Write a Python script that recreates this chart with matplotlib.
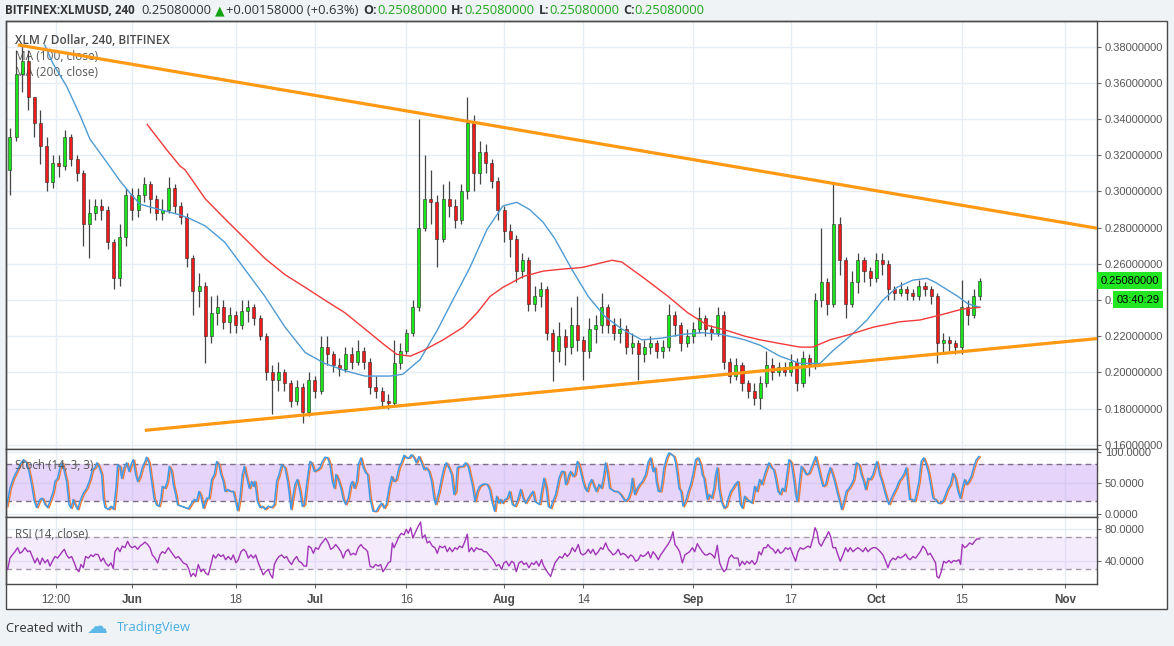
import numpy as np
import pandas as pd
import matplotlib
matplotlib.use('Agg')
import matplotlib.pyplot as plt
import matplotlib.dates as mdates
import matplotlib.transforms as mtransforms
from matplotlib.patches import Rectangle
from matplotlib.ticker import FormatStrFormatter

# ---------------------------------------------------------------------------
# Data (daily candles, XLM/USD, May 12 - Oct 18 2018)
# ---------------------------------------------------------------------------
first_date = '2018-05-12'
first_open = 0.312

close = [
    0.330, 0.365, 0.372, 0.352, 0.338, 0.325, 0.305, 0.316, 0.314, 0.330,
    0.318, 0.310, 0.282, 0.288, 0.292, 0.290, 0.272, 0.252, 0.275, 0.298,
    0.290, 0.298, 0.304, 0.296, 0.288, 0.290, 0.302, 0.292, 0.286, 0.263,
    0.245, 0.248, 0.220, 0.233, 0.236, 0.228, 0.232, 0.226, 0.234, 0.236,
    0.230, 0.220, 0.200, 0.196, 0.200, 0.194, 0.184, 0.192, 0.178, 0.196,
    0.190, 0.214, 0.210, 0.204, 0.202, 0.210, 0.206, 0.212, 0.206, 0.192,
    0.190, 0.184, 0.183, 0.205, 0.212, 0.222, 0.236, 0.280, 0.296, 0.294,
    0.274, 0.296, 0.292, 0.284, 0.300, 0.338, 0.310, 0.322, 0.316, 0.306,
    0.290, 0.278, 0.274, 0.256, 0.262, 0.238, 0.242, 0.246, 0.222, 0.212,
    0.220, 0.214, 0.226, 0.218, 0.212, 0.224, 0.226, 0.236, 0.226, 0.222,
    0.224, 0.214, 0.216, 0.210, 0.214, 0.216, 0.212, 0.214, 0.232, 0.226,
    0.216, 0.220, 0.224, 0.230, 0.224, 0.222, 0.232, 0.206, 0.198, 0.204,
    0.194, 0.190, 0.186, 0.194, 0.204, 0.200, 0.203, 0.200, 0.206, 0.194,
    0.208, 0.204, 0.240, 0.250, 0.238, 0.282, 0.262, 0.238, 0.250, 0.262,
    0.256, 0.252, 0.262, 0.260, 0.246, 0.244, 0.246, 0.244, 0.242, 0.248,
    0.246, 0.242, 0.216, 0.218, 0.216, 0.214, 0.236, 0.232, 0.242, 0.2508,
]
high = [
    0.335, 0.378, 0.381, 0.378, 0.352, 0.345, 0.330, 0.320, 0.320, 0.334,
    0.332, 0.320, 0.312, 0.296, 0.296, 0.296, 0.292, 0.274, 0.282, 0.302,
    0.302, 0.302, 0.308, 0.306, 0.298, 0.296, 0.308, 0.304, 0.294, 0.288,
    0.265, 0.255, 0.250, 0.242, 0.243, 0.240, 0.236, 0.234, 0.240, 0.240,
    0.238, 0.232, 0.222, 0.204, 0.206, 0.202, 0.196, 0.196, 0.194, 0.200,
    0.198, 0.220, 0.220, 0.212, 0.208, 0.214, 0.214, 0.218, 0.214, 0.208,
    0.198, 0.192, 0.188, 0.218, 0.216, 0.224, 0.240, 0.340, 0.320, 0.312,
    0.298, 0.304, 0.306, 0.296, 0.304, 0.352, 0.342, 0.328, 0.326, 0.318,
    0.308, 0.292, 0.282, 0.276, 0.266, 0.264, 0.248, 0.250, 0.248, 0.224,
    0.228, 0.224, 0.236, 0.242, 0.220, 0.230, 0.232, 0.244, 0.238, 0.230,
    0.230, 0.226, 0.222, 0.218, 0.218, 0.220, 0.218, 0.218, 0.238, 0.234,
    0.228, 0.224, 0.228, 0.236, 0.232, 0.226, 0.236, 0.234, 0.208, 0.208,
    0.206, 0.196, 0.194, 0.198, 0.212, 0.208, 0.206, 0.206, 0.210, 0.208,
    0.212, 0.210, 0.244, 0.280, 0.252, 0.305, 0.286, 0.264, 0.256, 0.266,
    0.264, 0.258, 0.266, 0.266, 0.262, 0.248, 0.250, 0.248, 0.246, 0.251,
    0.250, 0.248, 0.244, 0.222, 0.220, 0.218, 0.251, 0.240, 0.246, 0.252,
]
low = [
    0.298, 0.328, 0.355, 0.345, 0.330, 0.315, 0.300, 0.302, 0.308, 0.312,
    0.314, 0.306, 0.270, 0.263, 0.284, 0.284, 0.268, 0.246, 0.248, 0.270,
    0.284, 0.286, 0.294, 0.288, 0.284, 0.284, 0.288, 0.288, 0.282, 0.258,
    0.232, 0.236, 0.205, 0.216, 0.226, 0.224, 0.222, 0.222, 0.224, 0.228,
    0.226, 0.218, 0.196, 0.177, 0.190, 0.190, 0.181, 0.182, 0.172, 0.176,
    0.186, 0.188, 0.204, 0.200, 0.198, 0.200, 0.202, 0.204, 0.202, 0.188,
    0.186, 0.181, 0.180, 0.182, 0.202, 0.210, 0.220, 0.234, 0.278, 0.282,
    0.258, 0.272, 0.286, 0.280, 0.282, 0.296, 0.300, 0.304, 0.310, 0.302,
    0.284, 0.272, 0.264, 0.250, 0.252, 0.234, 0.234, 0.236, 0.218, 0.195,
    0.206, 0.204, 0.210, 0.212, 0.196, 0.208, 0.216, 0.222, 0.222, 0.218,
    0.216, 0.210, 0.210, 0.196, 0.206, 0.210, 0.208, 0.208, 0.212, 0.220,
    0.212, 0.214, 0.216, 0.222, 0.220, 0.218, 0.220, 0.202, 0.194, 0.196,
    0.190, 0.186, 0.182, 0.180, 0.192, 0.196, 0.198, 0.198, 0.198, 0.190,
    0.192, 0.198, 0.202, 0.236, 0.232, 0.236, 0.254, 0.230, 0.236, 0.244,
    0.250, 0.248, 0.250, 0.254, 0.240, 0.240, 0.242, 0.240, 0.240, 0.240,
    0.242, 0.238, 0.205, 0.210, 0.212, 0.210, 0.210, 0.226, 0.230, 0.240,
]

# moving averages: (days after 2018-06-01, value)
ma100 = [(-14.3, 0.381), (-13.0, 0.371), (-10.7, 0.358), (-8.5, 0.342), (-6.9, 0.329),
         (-4.1, 0.316), (-2.0, 0.306), (-0.3, 0.299), (1.3, 0.293), (3.4, 0.291),
         (5.7, 0.289), (7.9, 0.287), (9.5, 0.285), (12.0, 0.281), (15.2, 0.272),
         (18.5, 0.257), (21.8, 0.242), (25.1, 0.225), (28.4, 0.211), (31.6, 0.205),
         (34.9, 0.201), (38.2, 0.198), (42.3, 0.198), (44.4, 0.199), (47.2, 0.207),
         (50.0, 0.223), (52.6, 0.240), (55.4, 0.258), (58.2, 0.279), (60.8, 0.292),
         (63.1, 0.294), (65.2, 0.290), (67.4, 0.283), (69.3, 0.274), (72.1, 0.257),
         (74.8, 0.242), (77.5, 0.231), (80.3, 0.224), (83.6, 0.218), (86.9, 0.219),
         (90.2, 0.221), (93.4, 0.222), (96.7, 0.221), (100.5, 0.218), (103.0, 0.215),
         (106.2, 0.209), (109.5, 0.205), (112.8, 0.205), (114.9, 0.212), (117.7, 0.220),
         (120.5, 0.229), (123.1, 0.240), (125.4, 0.247), (128.0, 0.251), (130.3, 0.252),
         (131.6, 0.250), (135.4, 0.242), (137.0, 0.238), (139.0, 0.236)]
ma200 = [(2.5, 0.337), (5.7, 0.323), (7.9, 0.314), (8.7, 0.312), (12.0, 0.296),
         (15.2, 0.285), (18.5, 0.274), (21.8, 0.263), (25.1, 0.254), (28.4, 0.247),
         (31.6, 0.240), (34.9, 0.233), (38.2, 0.224), (41.1, 0.216), (43.4, 0.210),
         (45.6, 0.209), (47.7, 0.212), (51.0, 0.218), (54.3, 0.225), (56.6, 0.233),
         (58.7, 0.242), (60.8, 0.247), (64.1, 0.253), (67.4, 0.256), (70.2, 0.257),
         (73.8, 0.258), (78.7, 0.262), (80.3, 0.261), (83.6, 0.253), (87.9, 0.242),
         (91.1, 0.233), (94.4, 0.226), (97.7, 0.223), (100.5, 0.220), (103.0, 0.218),
         (106.2, 0.216), (109.5, 0.214), (111.6, 0.214), (114.4, 0.218), (117.7, 0.221),
         (121.5, 0.225), (125.9, 0.228), (129.2, 0.229), (132.8, 0.232), (136.1, 0.235),
         (139.0, 0.236)]

# triangle trendlines (days after 2018-06-01, price)
upper_line = [(-18.7, 0.381), (158.2, 0.2797)]
lower_line = [(2.1, 0.168), (158.2, 0.2187)]

# Stoch %K (days after 2018-06-01, value)
stoch_k = [
    (-20.55, 12), (-20.0, 41), (-19.45, 57), (-18.9, 68), (-18.36, 79), (-17.81, 87), (-17.27, 82),
    (-16.89, 68), (-16.45, 47), (-16.01, 20), (-15.63, 10), (-15.08, 23), (-14.7, 25), (-14.26, 15),
    (-13.83, 10), (-13.44, 20), (-12.9, 36), (-12.62, 52), (-12.19, 57), (-11.8, 74), (-11.42, 82),
    (-11.09, 68), (-10.71, 52), (-10.33, 15), (-10.0, 9), (-9.62, 23), (-9.35, 15), (-8.91, 7),
    (-8.52, 20), (-7.98, 33), (-7.43, 41), (-6.89, 55), (-6.5, 71), (-6.07, 74), (-5.74, 82),
    (-5.41, 76), (-4.97, 63), (-4.7, 25), (-4.43, 10), (-3.88, 7), (-3.44, 12), (-3.0, 7),
    (-2.62, 41), (-2.35, 79), (-1.97, 76), (-1.69, 57), (-1.31, 74), (-0.87, 82), (-0.49, 68),
    (-0.16, 79), (0.22, 87), (0.6, 63), (0.93, 52), (1.31, 60), (1.69, 74), (2.13, 84),
    (2.4, 91), (2.79, 82), (3.22, 52), (3.61, 25), (4.04, 14), (4.43, 12), (4.75, 25),
    (4.97, 44), (5.41, 41), (5.79, 52), (6.12, 76), (6.5, 68), (6.78, 47), (7.16, 31),
    (7.49, 14), (8.14, 12), (8.69, 10), (9.23, 8), (9.78, 17), (10.22, 23), (10.6, 20),
    (10.98, 36), (11.31, 28), (11.69, 9), (11.97, 17), (12.24, 25), (12.62, 25), (13.06, 55),
    (13.5, 63), (13.88, 84), (14.26, 79), (14.59, 63), (14.97, 52), (15.25, 36), (15.68, 39),
    (16.07, 36), (16.61, 36), (16.99, 20), (17.32, 5), (17.7, 25), (18.09, 63), (18.42, 76),
    (18.69, 63), (18.96, 52), (19.23, 41), (19.62, 52), (19.89, 44), (20.16, 52), (20.55, 20),
    (20.98, 10), (21.37, 12), (21.8, 7), (22.35, 12), (22.9, 10), (23.33, 15), (23.72, 52),
    (24.1, 63), (24.54, 79), (25.08, 74), (25.52, 52), (25.74, 36), (26.07, 7), (26.34, 25),
    (26.72, 47), (27.1, 55), (27.54, 36), (27.92, 12), (28.25, 15), (28.63, 47), (28.91, 68),
    (29.18, 84), (29.45, 82), (29.89, 68), (30.44, 71), (30.82, 74), (31.2, 84), (31.64, 91),
    (32.08, 90), (32.46, 79), (32.84, 52), (33.17, 41), (33.44, 63), (33.82, 55), (34.26, 41),
    (34.65, 23), (35.03, 15), (35.46, 25), (35.85, 47), (36.12, 52), (36.45, 41), (36.83, 52),
    (37.1, 79), (37.54, 90), (37.92, 74), (38.31, 66), (38.63, 63), (39.02, 25),
    (39.51, 4), (40.05, 4), (40.49, 12), (40.93, 17), (41.31, 9), (41.69, 15), (42.13, 41),
    (42.57, 60), (42.95, 52), (43.33, 55), (43.77, 74), (44.15, 82), (44.59, 94), (44.97, 90),
    (45.41, 90), (45.84, 95), (46.23, 90), (46.61, 82), (47.05, 92), (47.48, 82), (47.87, 71),
    (48.25, 74), (48.69, 68), (49.12, 52), (49.51, 25), (49.78, 15), (50.33, 36), (50.76, 57),
    (51.15, 74), (51.53, 82), (51.96, 74), (52.4, 63), (52.78, 31), (53.06, 36), (53.33, 74),
    (53.71, 76), (54.26, 76), (54.7, 82), (55.13, 76), (55.41, 63), (55.79, 47), (56.23, 20),
    (56.61, 36), (56.99, 44), (57.43, 47), (57.87, 48), (58.25, 47), (58.63, 39), (59.07, 17),
    (59.45, 4), (59.78, 28), (60.16, 17), (60.43, 23), (60.71, 17), (61.15, 23), (61.53, 25),
    (61.91, 36), (62.35, 15), (62.78, 12), (63.17, 20), (63.71, 39), (64.1, 25), (64.53, 17),
    (64.97, 25), (65.35, 31), (65.74, 36), (66.06, 20), (66.45, 17), (66.83, 15), (67.16, 36),
    (67.54, 57), (67.92, 41), (68.25, 12), (68.63, 9), (69.01, 20), (69.45, 31), (70.0, 57),
    (70.43, 68), (70.82, 68), (71.09, 47), (71.36, 52), (71.64, 63), (71.91, 68), (72.29, 60),
    (72.62, 63), (73.0, 84), (73.28, 79), (73.66, 63), (73.93, 52), (74.26, 41), (74.64, 36),
    (74.92, 47), (75.35, 55), (75.74, 44), (76.12, 36), (76.56, 47), (76.94, 41), (77.27, 57),
    (77.65, 82), (77.92, 68), (78.3, 41), (78.63, 39), (79.01, 36), (79.56, 36), (80.11, 31),
    (80.49, 25), (80.93, 20), (81.36, 25), (81.75, 36), (82.02, 57), (82.4, 31), (82.84, 41),
    (83.22, 47), (83.66, 52), (84.2, 63), (84.64, 84), (85.02, 90), (85.41, 68), (85.74, 74),
    (85.95, 52), (86.28, 36), (86.66, 36), (86.94, 52), (87.21, 74), (87.65, 90), (88.03, 98),
    (88.47, 95), (88.85, 92), (89.12, 82), (89.4, 63), (89.67, 41), (90.0, 36), (90.33, 12),
    (90.76, 20), (91.2, 36), (91.58, 47), (91.96, 63), (92.4, 87), (92.78, 90), (93.22, 79),
    (93.49, 63), (93.77, 57), (94.04, 39), (94.32, 23), (94.59, 31), (95.03, 25), (95.41, 41),
    (95.68, 63), (95.95, 74), (96.23, 41), (96.61, 20), (97.05, 9), (97.43, 12), (97.76, 25),
    (98.14, 36), (98.52, 41), (98.85, 47),
    (99.34, 52), (99.72, 15), (100.05, 9), (100.43, 28), (100.82, 23), (101.25, 20), (101.63, 17),
    (102.07, 44), (102.45, 36), (102.89, 55), (103.27, 47), (103.71, 63), (104.09, 74), (104.42, 82),
    (104.8, 74), (105.19, 71), (105.51, 57), (105.9, 36), (106.28, 31), (106.61, 41), (106.99, 36),
    (107.37, 63), (107.7, 87), (108.08, 82), (108.47, 57), (108.79, 31), (109.07, 20), (109.45, 52),
    (109.72, 76), (110.1, 71), (110.54, 63), (110.98, 65), (111.36, 74), (111.74, 84), (112.07, 92),
    (112.45, 76), (112.84, 60), (113.27, 44), (113.71, 47), (114.09, 63), (114.48, 74), (114.8, 65),
    (115.19, 52), (115.57, 36), (116.01, 20), (116.33, 7), (116.72, 20), (117.1, 36), (117.54, 41),
    (117.92, 47), (118.3, 55), (118.74, 82), (119.18, 79), (119.56, 63), (119.94, 52), (120.27, 39),
    (120.65, 57), (121.03, 55), (121.47, 63), (121.91, 79), (122.13, 84), (122.56, 63), (122.95, 52),
    (123.38, 36), (123.77, 23), (124.09, 15), (124.48, 25), (124.86, 33), (125.3, 41), (125.73, 52),
    (126.12, 57), (126.5, 63), (126.94, 74), (127.21, 47), (127.48, 23), (127.92, 23), (128.3, 20),
    (128.57, 31), (129.01, 52), (129.39, 84), (129.78, 90), (130.21, 79), (130.6, 65), (131.03, 41),
    (131.31, 25), (131.74, 23), (132.13, 17), (132.51, 17), (132.95, 20), (133.38, 31), (133.77, 41),
    (134.15, 47), (134.59, 65), (134.97, 57), (135.41, 36), (135.79, 25), (136.12, 41), (136.5, 55),
    (136.77, 47), (137.15, 52), (137.59, 60), (137.97, 74), (138.41, 87), (138.85, 92),
]

# RSI (days after 2018-06-01, value)
rsi = [
    (-20.38, 30), (-20.0, 44), (-19.62, 48), (-19.18, 52), (-18.74, 57), (-18.36, 50), (-17.98, 52),
    (-17.54, 57), (-17.1, 52), (-16.72, 53), (-16.34, 46), (-15.9, 38), (-15.52, 44), (-15.08, 36),
    (-14.7, 44), (-14.26, 38), (-13.83, 42), (-13.44, 34), (-13.06, 40), (-12.62, 46), (-12.19, 44),
    (-11.8, 48), (-11.42, 52), (-11.09, 55), (-10.71, 48), (-10.33, 44), (-9.89, 46), (-9.45, 38),
    (-9.07, 30), (-8.69, 27), (-8.36, 36), (-7.98, 32), (-7.6, 46), (-7.16, 44), (-6.72, 48),
    (-6.34, 46), (-5.96, 49), (-5.52, 48), (-5.08, 40), (-4.7, 44), (-4.32, 38), (-3.88, 34),
    (-3.44, 38), (-3.06, 31), (-2.79, 52), (-2.35, 57), (-1.97, 52), (-1.59, 59), (-1.15, 57),
    (-0.71, 65), (-0.33, 59), (0.05, 57), (0.49, 59), (0.93, 55), (1.31, 59), (1.69, 61),
    (2.13, 64), (2.57, 61), (2.95, 57), (3.33, 48), (3.77, 44), (4.21, 38), (4.59, 48),
    (4.97, 52), (5.41, 50), (5.96, 57), (6.39, 52), (6.78, 48), (7.16, 44), (7.6, 46),
    (8.03, 42), (8.41, 38), (8.96, 36), (9.34, 30), (9.67, 21), (10.05, 25), (10.44, 21),
    (10.87, 36), (11.31, 27), (11.69, 30), (12.13, 25), (12.51, 23), (12.95, 36), (13.33, 48),
    (13.72, 44), (14.15, 49), (14.59, 46), (14.97, 48), (15.35, 42), (15.79, 46), (16.23, 42),
    (16.61, 48), (17.05, 38), (17.43, 42), (17.87, 52), (18.31, 55), (18.69, 52), (19.07, 44),
    (19.51, 48), (19.89, 44), (20.27, 48), (20.71, 38), (21.15, 30), (21.53, 23), (21.91, 27),
    (22.35, 30), (22.73, 23), (23.06, 19), (23.33, 36), (23.72, 42), (24.1, 46), (24.54, 48),
    (24.97, 44), (25.35, 46), (25.74, 40), (26.17, 36), (26.56, 42), (26.99, 46), (27.38, 40),
    (27.81, 38), (28.2, 34), (28.63, 34), (28.91, 59), (29.34, 57), (29.73, 50), (30.11, 57),
    (30.55, 55), (30.93, 61), (31.37, 65), (31.75, 69), (32.19, 63), (32.57, 55), (33.01, 57),
    (33.39, 61), (33.82, 57), (34.26, 52), (34.64, 44), (35.03, 52), (35.46, 55), (35.85, 48),
    (36.28, 50), (36.67, 48), (37.1, 57), (37.54, 61), (37.92, 57), (38.31, 55), (38.63, 52),
    (39.02, 34),
    (39.51, 32), (39.94, 36), (40.38, 34), (40.76, 36), (41.15, 27), (41.58, 32), (42.02, 38),
    (42.4, 40), (42.68, 63), (42.95, 57), (43.33, 63), (43.77, 71), (44.15, 75), (44.59, 73),
    (44.97, 80), (45.3, 75), (45.68, 82), (46.06, 69), (46.5, 77), (46.94, 84), (47.32, 89),
    (47.59, 69), (48.03, 73), (48.41, 63), (48.79, 65), (49.23, 59), (49.67, 57), (50.05, 50),
    (50.43, 59), (50.87, 57), (51.31, 59), (51.69, 52), (52.07, 57), (52.51, 52), (52.95, 57),
    (53.33, 55), (53.71, 59), (54.15, 57), (54.59, 65), (54.97, 74), (55.24, 52), (55.68, 57),
    (56.06, 52), (56.45, 57), (56.88, 55), (57.32, 55), (57.7, 52), (58.08, 52), (58.52, 48),
    (58.96, 44), (59.34, 40), (59.72, 34), (60.16, 36), (60.6, 30), (60.98, 38), (61.36, 40),
    (61.8, 34), (62.24, 40), (62.62, 38), (63.0, 27), (63.44, 38), (63.88, 40), (64.26, 36),
    (64.64, 38), (65.08, 32), (65.52, 38), (65.9, 36), (66.28, 40), (66.72, 34), (67.16, 42),
    (67.38, 36), (67.81, 30), (68.25, 25), (68.63, 21), (69.01, 30), (69.34, 38), (69.72, 42),
    (70.11, 46), (70.54, 44), (70.98, 50), (71.36, 46), (71.8, 50), (72.18, 57), (72.62, 52),
    (73.17, 61), (73.55, 50), (73.93, 48), (74.37, 50), (74.81, 55), (75.19, 50), (75.57, 55),
    (76.01, 48), (76.45, 52), (76.83, 57), (77.21, 55), (77.65, 63), (78.09, 55), (78.47, 52),
    (78.85, 48), (79.29, 50), (79.72, 55), (80.11, 48), (80.49, 50), (80.93, 48), (81.36, 44),
    (81.75, 48), (82.13, 46), (82.57, 40), (83.0, 42), (83.39, 48), (83.77, 46), (84.21, 48),
    (84.64, 52), (85.02, 44), (85.41, 52), (85.84, 48), (86.28, 42), (86.66, 48), (87.05, 52),
    (87.48, 57), (87.87, 61), (88.3, 67), (88.69, 77), (89.01, 61), (89.4, 57), (89.78, 52),
    (90.22, 38), (90.65, 48), (91.04, 50), (91.42, 52), (91.86, 57), (92.24, 52), (92.68, 62),
    (93.06, 57), (93.49, 52), (93.93, 48), (94.32, 48), (94.7, 50), (95.14, 48), (95.52, 44),
    (95.95, 60), (96.34, 38), (96.67, 32), (97.05, 27), (97.43, 30), (97.87, 44), (98.3, 48),
    (98.69, 44),
    (99.34, 44), (99.61, 34), (100.05, 40), (100.43, 36), (100.82, 40), (101.25, 37), (101.63, 41),
    (102.07, 36), (102.45, 40), (102.78, 52), (103.16, 48), (103.55, 57), (103.98, 57), (104.26, 61),
    (104.64, 57), (105.08, 55), (105.51, 50), (105.9, 55), (106.28, 50), (106.72, 52), (107.15, 57),
    (107.54, 55), (107.92, 57), (108.36, 48), (108.79, 40), (109.18, 52), (109.56, 57), (110.0, 55),
    (110.43, 57), (110.82, 59), (111.2, 57), (111.64, 69), (111.96, 82), (112.29, 77), (112.62, 63),
    (113.0, 59), (113.38, 65), (113.82, 71), (114.2, 77), (114.53, 71), (114.91, 57), (115.35, 57),
    (115.73, 48), (116.12, 40), (116.55, 48), (116.99, 57), (117.37, 52), (117.75, 57), (118.19, 52),
    (118.63, 55), (119.01, 57), (119.39, 55), (119.83, 52), (120.27, 57), (120.65, 52), (121.03, 55),
    (121.47, 57), (121.91, 57), (122.29, 55), (122.67, 52), (123.11, 48), (123.55, 40), (123.93, 32),
    (124.31, 40), (124.75, 44), (125.19, 42), (125.57, 46), (125.95, 44), (126.39, 46), (126.83, 49),
    (127.21, 44), (127.59, 42), (128.03, 46), (128.47, 44), (128.85, 48), (129.23, 52), (129.67, 59),
    (130.11, 55), (130.49, 48), (130.87, 50), (131.31, 44), (131.74, 38), (131.96, 21), (132.29, 19),
    (132.67, 27), (133.06, 40), (133.49, 38), (133.93, 41), (134.31, 38), (134.7, 41), (135.13, 40),
    (135.57, 42), (135.84, 36), (136.12, 61), (136.5, 57), (136.88, 59), (137.32, 63), (137.76, 61),
    (138.14, 65), (138.52, 68), (138.96, 68),
]

tick_dates = ['2018-05-19 12:00', '2018-06-01', '2018-06-18', '2018-07-01', '2018-07-16',
              '2018-08-01', '2018-08-14', '2018-09-01', '2018-09-17', '2018-10-01',
              '2018-10-15', '2018-11-01']
tick_labels = ['12:00', 'Jun', '18', 'Jul', '16', 'Aug', '14', 'Sep', '17', 'Oct', '15', 'Nov']
price_ticks = [0.16, 0.18, 0.20, 0.22, 0.24, 0.26, 0.28, 0.30, 0.32, 0.34, 0.36, 0.38]
last_price = 0.2508

# ---------------------------------------------------------------------------
plt.rcParams['font.family'] = ['Liberation Sans', 'DejaVu Sans']
UI_FONT = ['Open Sans', 'DejaVu Sans']

W, H = 1174, 646
fig = plt.figure(figsize=(W / 100, H / 100), dpi=100, facecolor='#f0f3f6')


def box(x0, y0, x1, y1):
    return [x0 / W, 1 - y1 / H, (x1 - x0) / W, (y1 - y0) / H]


# white chart frame behind everything
fig.patches.append(Rectangle((6 / W, 1 - 609 / H), 1161 / W, 588 / H, transform=fig.transFigure,
                             facecolor='white', edgecolor='none', zorder=-1))

ax_p = fig.add_axes(box(6, 21, 1097, 449))
ax_s = fig.add_axes(box(6, 449, 1097, 517), sharex=ax_p)
ax_r = fig.add_axes(box(6, 517, 1097, 584), sharex=ax_p)
ax_s.set_zorder(2)
ax_r.set_zorder(2)

t0 = mdates.date2num(pd.Timestamp('2018-06-01'))
cx = mdates.date2num(pd.date_range(first_date, periods=len(close), freq='D'))
c = np.array(close)
o = np.r_[first_open, c[:-1]]
h = np.array(high)
l = np.array(low)
up = c >= o

tick_x = mdates.date2num(pd.to_datetime(tick_dates, format='mixed'))

for ax in (ax_p, ax_s, ax_r):
    ax.set_xlim(t0 - 20.65, t0 + 158.2)
    ax.set_xticks(tick_x)
    ax.yaxis.tick_right()
    ax.tick_params(axis='y', direction='out', length=3, width=0.8, color='#666',
                   labelcolor='#555', labelsize=8, pad=2.5)
    ax.tick_params(axis='x', length=0, labelbottom=False)
    for sp in ax.spines.values():
        sp.set_color('#4a4a4a')
        sp.set_linewidth(1)
    ax.grid(True, color='#e6edf4', lw=1)
    ax.set_axisbelow(True)

# ---- price panel ----------------------------------------------------------
ax_p.set_ylim(0.1577, 0.3942)
ax_p.set_yticks(price_ticks)
ax_p.yaxis.set_major_formatter(FormatStrFormatter('%.8f'))

ax_p.vlines(cx, l, h, color='#444444', lw=0.9, zorder=3)
ax_p.bar(cx, np.maximum(np.abs(c - o), 0.0004), bottom=np.minimum(o, c), width=0.5,
         color=np.where(up, '#19e619', '#f01b1b'), edgecolor='#2a2a2a', linewidth=0.4, zorder=4)

m1 = np.array(ma100)
m2 = np.array(ma200)
ax_p.plot(t0 + m1[:, 0], m1[:, 1], color='#4e9bd4', lw=1, zorder=5)
ax_p.plot(t0 + m2[:, 0], m2[:, 1], color='#f23a3a', lw=1, zorder=5)

for line in (upper_line, lower_line):
    arr = np.array(line)
    ax_p.plot(t0 + arr[:, 0], arr[:, 1], color='#ff9914', lw=2.3, zorder=6,
              solid_capstyle='butt')

ax_p.text(15 / W, 1 - 40 / H, 'XLM / Dollar, 240, BITFINEX', transform=fig.transFigure,
          fontsize=8.6, fontweight='semibold', color='#4a4a4a', family=UI_FONT,
          va='center', zorder=1)
ax_p.text(15 / W, 1 - 57 / H, 'MA (100, close)', transform=fig.transFigure,
          fontsize=8.6, color='#5a5a5a', family=UI_FONT, va='center', zorder=1)
ax_p.text(15 / W, 1 - 73 / H, 'MA (200, close)', transform=fig.transFigure,
          fontsize=8.6, color='#5a5a5a', family=UI_FONT, va='center', zorder=1)

blend = mtransforms.blended_transform_factory(ax_p.transAxes, ax_p.transData)
ax_p.text(1.003, last_price, '%.8f' % last_price, transform=blend, ha='left', va='center',
          fontsize=8, color='black', clip_on=False, zorder=10,
          bbox=dict(boxstyle='square,pad=0.3', fc='#22e622', ec='none'))
ax_p.text(1.0575, 0.2403, '03:40:29', transform=blend, ha='right', va='center',
          fontsize=8, color='black', clip_on=False, zorder=10,
          bbox=dict(boxstyle='square,pad=0.3', fc='#22e622', ec='none'))

# mask under the price scale where the stoch panel begins
fig.patches.append(Rectangle((1097.5 / W, 1 - 516.5 / H), 69 / W, 67 / H,
                             transform=fig.transFigure, facecolor='white',
                             edgecolor='none', zorder=1))

# ---- stochastic panel -----------------------------------------------------
ax_s.set_ylim(-5.3, 104.2)
ax_s.set_yticks([0, 50, 100])
ax_s.yaxis.set_major_formatter(FormatStrFormatter('%.4f'))
ax_s.axhspan(20, 80, color='#c9a0f5', alpha=0.45, lw=0, zorder=1)
for lv in (20, 80):
    ax_s.axhline(lv, color='#7b6f86', lw=1, ls=(0, (4, 3)), zorder=2)
sk = np.array(stoch_k)
shift = mtransforms.offset_copy(ax_s.transData, fig=fig, x=1.4, y=-0.5, units='dots')
ax_s.plot(t0 + sk[:, 0], sk[:, 1], color='#f57a35', lw=1.0, transform=shift, zorder=3)
ax_s.plot(t0 + sk[:, 0], sk[:, 1], color='#3d9be9', lw=1.1, zorder=4)
ax_s.text(15 / W, 1 - 465.5 / H, 'Stoch (14, 3, 3)', transform=fig.transFigure,
          fontsize=8.3, color='#555555', family=UI_FONT, va='center', zorder=5)

# ---- RSI panel ------------------------------------------------------------
ax_r.set_ylim(11.6, 95.4)
ax_r.set_yticks([40, 80])
ax_r.yaxis.set_major_formatter(FormatStrFormatter('%.4f'))
ax_r.axhspan(30, 70, color='#c9a0f5', alpha=0.2, lw=0, zorder=1)
for lv in (30, 70):
    ax_r.axhline(lv, color='#a49aab', lw=1, ls=(0, (4, 3)), zorder=2)
rr = np.array(rsi)
ax_r.plot(t0 + rr[:, 0], rr[:, 1], color='#a235b8', lw=1, zorder=3)
ax_r.text(15 / W, 1 - 534.5 / H, 'RSI (14, close)', transform=fig.transFigure,
          fontsize=8.3, color='#555555', family=UI_FONT, va='center', zorder=5)

# date axis
ax_r.tick_params(axis='x', labelbottom=True, length=3, width=0.8, color='#666',
                 labelsize=8.4, labelcolor='#555', pad=4)
ax_r.set_xticklabels(tick_labels)
for lab in ax_r.get_xticklabels():
    if lab.get_text().isalpha():
        lab.set_fontweight('bold')
        lab.set_color('#4a4a4a')

# outer frame
fig.patches.append(Rectangle((6 / W, 1 - 609 / H), 1161 / W, 588 / H, transform=fig.transFigure,
                             fill=False, edgecolor='#4a4a4a', lw=1, zorder=3))

# ---- header ---------------------------------------------------------------
renderer = fig.canvas.get_renderer()
dark = '#333333'
green = '#1fa71f'
header_parts = [
    ('BITFINEX:XLMUSD, 240', dark, 'bold', 8.4, 7),
    ('0.25080000', dark, 'normal', 9.4, 3),
    ('\u25B2', '#13a313', 'normal', 9.0, 2),
    ('+0.00158000 (+0.63%)', dark, 'normal', 9.4, 5),
    ('O:', dark, 'bold', 9.0, 0), ('0.25080000', green, 'normal', 9.4, 4),
    ('H:', dark, 'bold', 9.0, 0), ('0.25080000', green, 'normal', 9.4, 4),
    ('L:', dark, 'bold', 9.0, 0), ('0.25080000', green, 'normal', 9.4, 4),
    ('C:', dark, 'bold', 9.0, 0), ('0.25080000', green, 'normal', 9.4, 0),
]
hx = 5
for txt, col, wt, fs, gap in header_parts:
    t = fig.text(hx / W, 1 - 10.5 / H, txt, color=col, fontweight=wt, fontsize=fs,
                 family=UI_FONT, va='center', ha='left')
    hx += t.get_window_extent(renderer=renderer).width + gap

# ---- footer ---------------------------------------------------------------
fig.text(6 / W, 1 - 628 / H, 'Created with', fontsize=9.3, color='#2f2f2f',
         family=UI_FONT, va='center')
fig.text(87 / W, 1 - 627 / H, '\u2601', fontsize=15, color='#5db7e8',
         family=['DejaVu Sans'], va='center')
fig.text(117 / W, 1 - 628 / H, 'TradingView', fontsize=9.3, color='#47ade5',
         family=UI_FONT, va='center')

fig.savefig('out.png', dpi=100, facecolor=fig.get_facecolor())
